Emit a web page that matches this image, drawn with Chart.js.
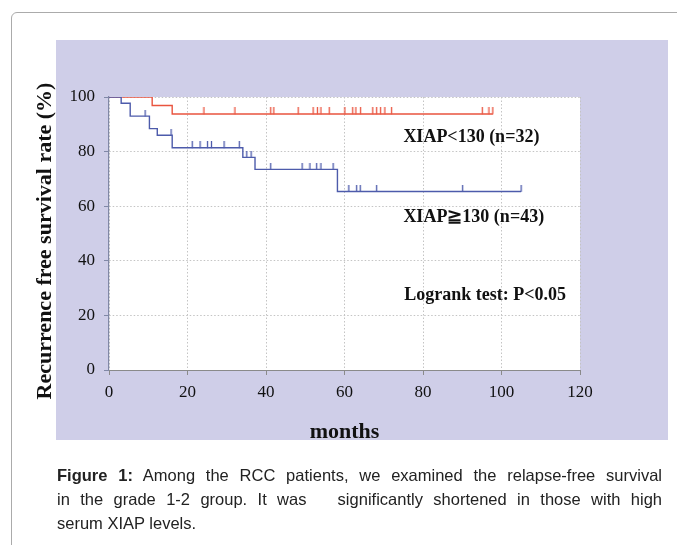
<!DOCTYPE html>
<html>
<head>
<meta charset="utf-8">
<script src="https://cdn.jsdelivr.net/npm/chart.js@4.4.0/dist/chart.umd.min.js"></script>
<style>
  html, body { margin: 0; padding: 0; background: #fff; overflow: hidden; }
  #wrap { position: relative; width: 677px; height: 545px; overflow: hidden; }
  #frame { position: absolute; left: 11px; top: 12px; width: 720px; height: 600px;
           border: 1.5px solid #ababab; border-radius: 6px; box-sizing: border-box; }
  canvas { position: absolute; left: 0; top: 0; }
  #caption { position: absolute; left: 57px; top: 463px; width: 605px;
             font-family: "Liberation Sans", Arial, sans-serif; font-size: 16.5px; color: #222; line-height: 24px; }
  #caption .j { text-align: justify; text-align-last: justify; white-space: nowrap; }
</style>
</head>
<body>
<div id="wrap">
  <div id="frame"></div>
  <canvas id="c" width="677" height="545"></canvas>
  <div id="caption">
    <div class="j"><b>Figure 1:</b> Among the RCC patients, we examined the relapse-free survival</div>
    <div class="j">in the grade 1-2 group. It was &nbsp; significantly shortened in those with high</div>
    <div>serum XIAP levels.</div>
  </div>
</div>
<script>
// ---- data ----
const xTicks = [0, 20, 40, 60, 80, 100, 120];
const yTicks = [0, 20, 40, 60, 80, 100];

// XIAP<130 (n=32): event times (months) and survival (%) after each step
const lowTimes = [0, 11.0, 16.1, 97.8];
const lowSurv  = [100, 96.9, 93.8, 93.8];
// censored times for low group
const lowCensorTimes = [24.2, 32.1, 41.2, 42.0, 48.2, 52.0, 53.1, 54.0, 56.1, 60.1, 62.1, 62.9, 64.1, 67.2, 68.2, 69.2, 70.3, 72.0, 95.1, 96.8, 97.8];
const lowCensorSurv  = [93.8, 93.8, 93.8, 93.8, 93.8, 93.8, 93.8, 93.8, 93.8, 93.8, 93.8, 93.8, 93.8, 93.8, 93.8, 93.8, 93.8, 93.8, 93.8, 93.8, 93.8];

// XIAP>=130 (n=43)
const highTimes = [0, 3.1, 5.4, 10.3, 12.3, 16.1, 34.1, 37.2, 58.2, 105.0];
const highSurv  = [100, 97.7, 93.0, 88.4, 86.0, 81.4, 77.9, 73.5, 65.4, 65.4];
const highCensorTimes = [9.2, 15.8, 21.2, 23.2, 25.1, 26.1, 29.3, 33.2, 35.1, 36.2, 41.2, 49.2, 51.2, 52.9, 54.0, 57.1, 61.1, 63.1, 64.0, 68.2, 90.1, 105.0];
const highCensorSurv  = [93.0, 86.0, 81.4, 81.4, 81.4, 81.4, 81.4, 81.4, 77.9, 77.9, 73.5, 73.5, 73.5, 73.5, 73.5, 73.5, 65.4, 65.4, 65.4, 65.4, 65.4, 65.4];

// text annotations (data coordinates)
const noteText = ["XIAP<130 (n=32)", "XIAP\u2267130 (n=43)", "Logrank test: P<0.05"];
const noteX    = [75, 75, 75.2];
const noteY    = [85.3, 56.0, 27.5];

const xTitle = "months";
const yTitle = "Recurrence free survival rate (%)";

// ---- styling ----
const RED = "#e9543f";
const BLUE = "#4d5bab";
const PANEL = "#cfcee8";
const serif = "'Liberation Serif', 'Times New Roman', serif";

function censorMark(color) {
  const c = document.createElement('canvas');
  c.width = 3; c.height = 13;
  const g = c.getContext('2d');
  g.strokeStyle = color; g.lineWidth = 1.3;
  g.beginPath(); g.moveTo(1.5, 0); g.lineTo(1.5, 6.8); g.stroke();
  return c;
}
const zip = (xs, ys) => xs.map((x, i) => ({x: x, y: ys[i]}));

const panelPlugin = {
  id: 'panel',
  beforeDraw(chart) {
    const ctx = chart.ctx, a = chart.chartArea;
    ctx.save();
    ctx.fillStyle = PANEL;
    ctx.fillRect(56, 40, 612, 400);
    ctx.fillStyle = '#ffffff';
    ctx.fillRect(a.left, a.top, a.right - a.left, a.bottom - a.top);
    ctx.restore();
  }
};
const notesPlugin = {
  id: 'notes',
  afterDatasetsDraw(chart) {
    const ctx = chart.ctx, xs = chart.scales.x, ys = chart.scales.y;
    ctx.save();
    ctx.fillStyle = '#111';
    ctx.font = "bold 18px " + serif;
    ctx.textAlign = 'left';
    ctx.textBaseline = 'middle';
    noteText.forEach((t, i) => {
      ctx.fillText(t, xs.getPixelForValue(noteX[i]), ys.getPixelForValue(noteY[i]));
    });
    // y axis title
    ctx.translate(45.5, 241);
    ctx.rotate(-Math.PI / 2);
    ctx.textAlign = 'center';
    ctx.font = "bold 22px " + serif;
    ctx.fillText(yTitle, 0, 0);
    ctx.restore();
  }
};

Chart.defaults.font.family = serif;
new Chart(document.getElementById('c'), {
  type: 'line',
  data: {
    datasets: [
      { data: zip(highTimes, highSurv), borderColor: BLUE, borderWidth: 1.4, stepped: 'before', pointRadius: 0, fill: false },
      { data: zip(lowTimes, lowSurv), borderColor: RED, borderWidth: 1.4, stepped: 'before', pointRadius: 0, fill: false },
      { data: zip(highCensorTimes, highCensorSurv), showLine: false, pointStyle: censorMark(BLUE), pointRadius: 4, borderColor: BLUE, backgroundColor: BLUE },
      { data: zip(lowCensorTimes, lowCensorSurv), showLine: false, pointStyle: censorMark(RED), pointRadius: 4, borderColor: RED, backgroundColor: RED }
    ]
  },
  options: {
    responsive: false,
    animation: false,
    events: [],
    layout: { padding: { left: 32, top: 97, right: 97, bottom: 99 } },
    plugins: { legend: { display: false }, tooltip: { enabled: false } },
    scales: {
      x: {
        type: 'linear', min: 0, max: 120,
        afterBuildTicks: s => { s.ticks = xTicks.map(v => ({value: v})); },
        afterFit: s => { s.height = 76; },
        ticks: { color: '#111', font: { size: 17 }, padding: 7, maxRotation: 0 },
        grid: { color: '#c4c4c4', tickColor: '#8a8a8a', tickLength: 5, lineWidth: 1, borderDash: [1.5, 2], tickBorderDash: [] },
        border: { color: '#8a8a8a', width: 1, dash: [1.5, 2] },
        title: { display: true, text: xTitle, color: '#111', font: { size: 22, weight: 'bold' }, padding: { top: 0, bottom: 0 } }
      },
      y: {
        type: 'linear', min: 0, max: 100,
        afterBuildTicks: s => { s.ticks = yTicks.map(v => ({value: v})); },
        afterFit: s => { s.width = 77; },
        ticks: { color: '#111', font: { size: 17 }, padding: 9 },
        grid: { color: '#c4c4c4', tickColor: '#8088a6', tickLength: 5, lineWidth: 1, borderDash: [1.5, 2], tickBorderDash: [] },
        border: { color: '#8088a6', width: 1.2, dash: [1.5, 2] },
        title: { display: false }
      }
    }
  },
  plugins: [panelPlugin, notesPlugin]
});
</script>
</body>
</html>
